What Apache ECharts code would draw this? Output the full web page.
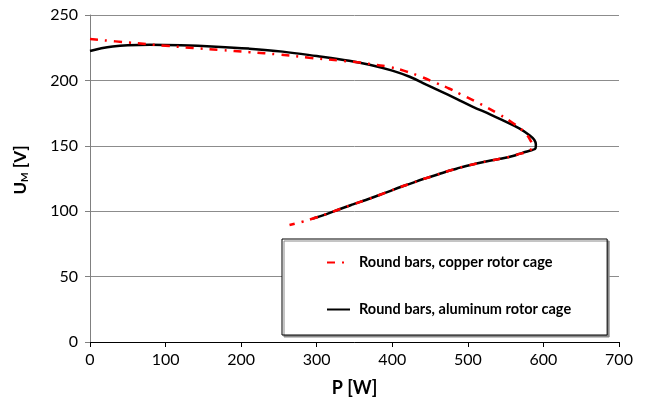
<!DOCTYPE html>
<html>
<head>
<meta charset="utf-8">
<script src="https://cdn.jsdelivr.net/npm/echarts@6/dist/echarts.min.js"></script>
<style>
html,body{margin:0;padding:0;background:#fff;}
#chart{width:646px;height:404px;}
</style>
</head>
<body>
<div id="chart"></div>
<script>
// Series names
var seriesNames = ['Round bars, copper rotor cage', 'Round bars, aluminum rotor cage'];

// Copper rotor cage: [P (W), U_M (V)]
var copperData = [
  [0,231.6],[50,229],[100,226.5],[136,224.8],[171,223.3],[211,221.6],[250,219.8],
  [290,217.3],[330,215.2],[357,213.6],[380,211.8],[396,210.3],[415,207.5],[435,203.5],
  [458,198],[475,193.8],[490,189.5],[515,182.5],[540,174.5],[558,168],[571,162.5],
  [578,158.5],[583,154],[585.5,150],[584,147.5],[578,145.3],[568,143.8],[559.5,142.2],
  [545,140.3],[528.7,138.6],[513,136.7],[497.8,134.6],[485,132.5],[471,130.2],[456,127.3],
  [440,124.4],[425,121.3],[410,118.3],[396,115.2],[383,112.4],[365,108.6],[348,105.2],
  [330,101.5],[313,97.8],[295,94.4],[280,91.8],[264,89.4]
];

// Aluminum rotor cage: [P (W), U_M (V)]
var aluminumData = [
  [0,222.5],[15,224.6],[30,226],[50,226.9],[79,227.3],[120,226.9],[167,225.8],
  [210,224.3],[255,222],[300,218.6],[343,215],[370,212],[400,207.5],[423,202.8],
  [445,196.8],[462,192.2],[485,185.9],[506,180],[530,173.9],[550,168.4],[568,163.3],
  [581.5,158.1],[588,154.5],[590,151],[589.5,148],[585,146.8],[577,145.5],[568,143.8],
  [559.5,142.2],[545,140.3],[528.7,138.6],[513,136.7],[497.8,134.6],[485,132.5],
  [471,130.2],[456,127.3],[440,124.4],[425,121.3],[410,118.3],[396,115.2],[383,112.4],
  [365,108.6],[348,105.2],[330,101.5],[313,97.8],[295,94.4]
];

// Axis ticks
var xTicks = {min: 0, max: 700, interval: 100};
var yTicks = {min: 0, max: 250, interval: 50};

var chart = echarts.init(document.getElementById('chart'));
var font = 'Lato';
chart.setOption({
  animation: false,
  backgroundColor: '#fff',
  grid: {left: 90, right: 27, top: 15, bottom: 62, containLabel: false},
  xAxis: {
    type: 'value', min: xTicks.min, max: xTicks.max, interval: xTicks.interval,
    name: 'P [W]', nameLocation: 'middle', nameGap: 37,
    nameTextStyle: {fontFamily: font, fontWeight: 'bold', fontSize: 18, color: '#000'},
    axisLine: {show: true, lineStyle: {color: '#000', width: 1}},
    axisTick: {show: true, inside: false, length: 5, lineStyle: {color: '#000'}},
    axisLabel: {fontFamily: font, fontSize: 16, color: '#000', margin: 10},
    splitLine: {show: false}
  },
  yAxis: {
    type: 'value', min: yTicks.min, max: yTicks.max, interval: yTicks.interval,
    axisLine: {show: true, lineStyle: {color: '#808080', width: 1}},
    axisTick: {show: true, inside: false, length: 5, lineStyle: {color: '#808080'}},
    axisLabel: {fontFamily: font, fontSize: 16, color: '#000', margin: 12},
    splitLine: {show: true, lineStyle: {color: '#8c8c8c', width: 1}}
  },
  legend: {
    orient: 'vertical',
    left: 282, top: 239,
    backgroundColor: '#fff',
    borderColor: '#000', borderWidth: 1,
    shadowColor: '#8a8a8a', shadowBlur: 0, shadowOffsetX: 2, shadowOffsetY: 2,
    padding: [16, 36, 18, 44],
    itemWidth: 23, itemHeight: 14, itemGap: 32,
    itemStyle: {opacity: 0},
    textStyle: {fontFamily: font, fontWeight: 'bold', fontSize: 14.5, color: '#000', padding: [0,0,0,4]},
    data: seriesNames
  },
  graphic: [{
    type: 'text',
    x: 21, y: 170,
    rotation: Math.PI / 2,
    style: {
      text: '{b|U}{s|M}{b| [V]}',
      align: 'center', verticalAlign: 'middle',
      rich: {
        b: {fontFamily: font, fontWeight: 'bold', fontSize: 17, fill: '#000'},
        s: {fontFamily: font, fontWeight: 'bold', fontSize: 10, fill: '#000', padding: [8,0,0,0]}
      }
    }
  }],
  series: [
    {
      name: seriesNames[0], type: 'line', data: copperData,
      smooth: 0.4, symbol: 'none', z: 3,
      lineStyle: {color: '#ff0000', width: 2.5, type: [8, 7, 2, 7]},
      itemStyle: {color: '#ff0000'}
    },
    {
      name: seriesNames[1], type: 'line', data: aluminumData,
      smooth: 0.4, symbol: 'none', z: 2,
      lineStyle: {color: '#000', width: 2.5, type: 'solid'},
      itemStyle: {color: '#000'}
    }
  ]
});
</script>
</body>
</html>
